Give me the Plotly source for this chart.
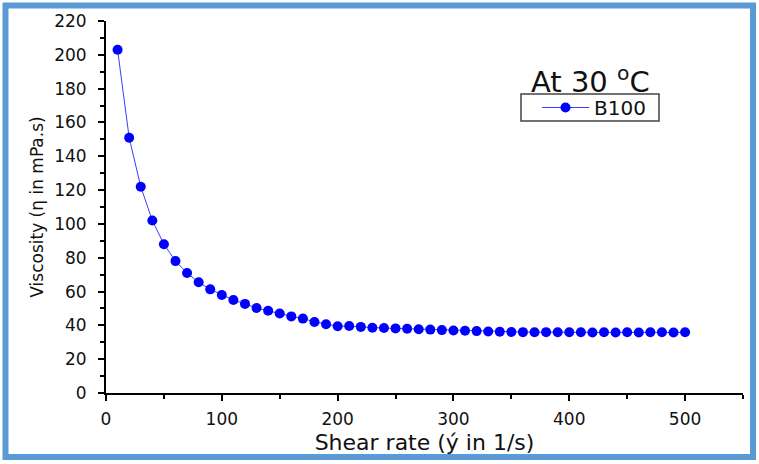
import plotly.graph_objects as go

# Data
shear_rate = [10, 20, 30, 40, 50, 60, 70, 80, 90, 100,
              110, 120, 130, 140, 150, 160, 170, 180, 190, 200,
              210, 220, 230, 240, 250, 260, 270, 280, 290, 300,
              310, 320, 330, 340, 350, 360, 370, 380, 390, 400,
              410, 420, 430, 440, 450, 460, 470, 480, 490, 500]
viscosity = [203, 151, 122, 102, 88, 78, 71, 65.5, 61.3, 58,
             55, 52.7, 50.3, 48.6, 47, 45.3, 44, 42, 40.7, 39.5,
             39.6, 39.1, 38.6, 38.4, 38.2, 38, 37.7, 37.5, 37.2, 37,
             36.8, 36.6, 36.4, 36.2, 36.1, 36.0, 35.9, 36.0, 35.9, 35.9,
             35.9, 35.8, 35.9, 35.8, 35.9, 35.8, 35.9, 35.9, 35.8, 35.9]
series_name = "B100"
x_title = "Shear rate (ý in 1/s)"
y_title = "Viscosity (η in mPa.s)"
chart_label = "At 30 <sup>o</sup>C"

FONT = "DejaVu Sans"

# plot-area pixel geometry helpers (paper coordinates)
L, R, T, B = 106, 16, 21, 71
PW, PH = 759 - L - R, 464 - T - B
def px(x): return (x - L) / PW
def py(y): return (464 - B - y) / PH

fig = go.Figure()
fig.add_trace(go.Scatter(
    x=shear_rate, y=viscosity, name=series_name, mode="lines+markers",
    line=dict(color="#3b3bff", width=1),
    marker=dict(color="#0000ff", size=10, symbol="circle"),
))

axis_common = dict(
    showline=True, linecolor="black", linewidth=2,
    ticks="outside", ticklen=6, tickwidth=1.5, tickcolor="black",
    showgrid=False, zeroline=False, mirror=False,
    tickfont=dict(family=FONT, size=17, color="#111111"),
)

fig.update_layout(
    width=759, height=464,
    margin=dict(l=L, r=R, t=T, b=B),
    paper_bgcolor="white", plot_bgcolor="white",
    font=dict(family=FONT, color="black"),
    xaxis=dict(
        range=[0, 550], tick0=0, dtick=100,
        minor=dict(ticks="outside", dtick=50, tick0=0, ticklen=4, tickwidth=1.5, tickcolor="black"),
        ticklabelstandoff=4,
        title=dict(text=x_title, font=dict(family=FONT, size=22, color="#111111"), standoff=6),
        **axis_common,
    ),
    yaxis=dict(
        range=[0, 220], tick0=0, dtick=20,
        minor=dict(ticks="outside", dtick=10, tick0=0, ticklen=4, tickwidth=1.5, tickcolor="black"),
        ticklabelstandoff=8,
        title=dict(text=y_title, font=dict(family=FONT, size=17, color="#111111"), standoff=6),
        **axis_common,
    ),
    showlegend=True,
    legend=dict(
        x=px(537), y=py(107.5), xanchor="left", yanchor="middle",
        bgcolor="rgba(0,0,0,0)", borderwidth=0,
        font=dict(family=FONT, size=20, color="#111111"),
        itemwidth=47,
    ),
    annotations=[dict(
        text=chart_label, xref="paper", yref="paper",
        x=px(590), y=py(80), xanchor="center", yanchor="middle",
        showarrow=False, font=dict(family=FONT, size=29, color="#111111"),
    )],
    shapes=[
        dict(type="rect", xref="paper", yref="paper", layer="below",
             x0=px(521), x1=px(659), y0=py(121), y1=py(94),
             line=dict(color="#444444", width=1.5), fillcolor="white"),
        dict(type="rect", xref="paper", yref="paper", layer="above",
             x0=px(5.5), x1=px(753), y0=py(457), y1=py(5.5),
             line=dict(color="#5b9bd5", width=6), fillcolor="rgba(0,0,0,0)"),
    ],
)

fig.write_html("out.html", config={"displayModeBar": False},
               post_script="document.body.style.margin='0';")
